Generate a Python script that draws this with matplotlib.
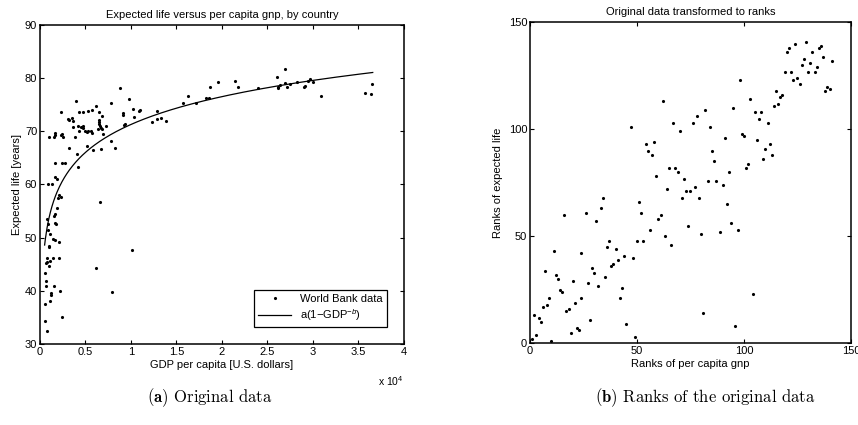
import numpy as np
import matplotlib.pyplot as plt
from matplotlib.ticker import FuncFormatter

plt.rcParams["font.family"] = ["Liberation Sans", "DejaVu Sans"]
plt.rcParams["mathtext.fontset"] = "custom"
plt.rcParams["mathtext.rm"] = "Liberation Sans"
plt.rcParams["mathtext.it"] = "Liberation Sans:italic"
plt.rcParams["font.size"] = 8

#===== left panel: GDP per capita [US$] vs expected life [years] =====#
gdp = [15750, 16300, 17140, 18240, 18600, 18680, 19520, 21430, 21720, 23960,
       26010, 26120, 26200, 26410, 26890, 26890, 27110, 27470, 28210, 29000,
       29080, 29670, 29960, 29490, 30920, 35710, 36340, 36520,
       13810, 13300, 12860, 12860, 12270,
       8790, 9740, 3990, 7770, 6150, 5710, 5270, 4760, 4250, 2270,
       6520, 6780, 6520, 6450, 6520, 6590, 6740, 6780, 6370, 6960,
       7290, 10260, 10990, 10920, 10330, 9080, 9160, 9380, 9230, 7770,
       8210, 3080, 3220, 3520, 3590, 3590, 4180, 4540, 4760, 4690,
       4320, 4980, 5270, 5570, 5710, 5130, 1610, 1610, 1540, 950,
       2420, 2270, 2560, 3810, 3220, 4100, 5130, 5790, 6670, 1680,
       2420, 2710, 4180,
       1610, 1900, 880, 1360, 2120, 2270, 1940, 6590, 1900, 1680,
       1540, 730, 1610, 1720, 880, 840, 1100, 1460, 1610, 2090,
       990, 990, 10150, 810, 1390, 2050, 730, 660, 1140, 990,
       6120, 550, 620, 1540, 620, 2200, 1170, 1250, 7910, 1060,
       550, 2420, 510, 810]
life = [75.4, 76.7, 75.4, 76.3, 76.3, 78.4, 79.3, 79.4, 78.4, 78.1,
        80.2, 78.1, 78.3, 78.7, 81.7, 79.1, 78.4, 78.9, 79.2, 78.3,
        78.5, 79.8, 79.2, 79.4, 76.7, 77.2, 77.1, 78.95,
        72.0, 72.55, 73.8, 72.4, 71.8,
        78.1, 76.1, 75.75, 75.4, 74.7, 74.0, 73.9, 73.6, 73.7, 73.6,
        73.6, 72.9, 72.2, 71.7, 71.4, 71.0, 70.6, 70.35, 70.5, 69.5,
        71.0, 74.2, 74.1, 73.9, 72.7, 73.4, 73.1, 71.4, 71.1, 68.2,
        66.8, 72.4, 72.2, 72.6, 71.9, 70.9, 71.0, 70.9, 71.0, 70.6,
        70.1, 70.0, 70.0, 70.1, 69.7, 69.85, 69.7, 69.35, 69.0, 68.85,
        69.5, 69.25, 68.85, 68.85, 66.8, 65.8, 67.2, 66.5, 66.7, 64.0,
        64.0, 64.0, 63.25,
        61.4, 61.0, 60.05, 60.0, 58.0, 57.6, 57.5, 56.7, 55.6, 54.5,
        54.1, 53.6, 52.8, 52.5, 52.65, 51.5, 50.6, 49.7, 49.5, 49.1,
        48.4, 48.2, 47.7, 46.2, 46.2, 46.2, 45.4, 45.3, 45.7, 44.7,
        44.3, 43.3, 41.8, 41.0, 40.9, 40.0, 39.5, 39.3, 39.7, 38.1,
        37.5, 35.07, 34.25, 32.4]

# fitted model a*(1 - GDP^-b)
fit_a = 1584.0
fit_b = 0.005

#===== right panel: ranks =====#
gnp_rank = [129, 124, 136, 121, 135, 120, 132, 137, 128, 141, 131, 127, 134, 119, 122,
            130, 133, 125, 123, 126, 98, 139, 140, 138, 115, 118, 117, 116, 114, 62,
            103, 95, 82, 105, 108, 78, 107, 111, 67, 76, 47, 84, 70, 99, 100,
            91, 106, 54, 58, 112, 110, 55, 57, 85, 113, 109, 86, 102, 65, 68,
            101, 69, 93, 59, 72, 83, 87, 90, 64, 77, 73, 75, 34, 71, 79,
            33, 51, 52, 26, 16, 31, 60, 61, 92, 74, 94, 56, 97, 89, 80,
            63, 50, 53, 37, 36, 66, 40, 11, 24, 44, 48, 41, 39, 38, 7,
            29, 30, 12, 13, 20, 35, 27, 32, 43, 14, 15, 104, 9, 24, 42,
            21, 8, 6, 18, 17, 81, 2, 4, 5, 28, 45, 96, 22, 23, 19,
            3, 49, 1, 10]
life_rank = [141, 140, 139, 138, 138, 136, 136, 134, 133, 132, 131, 130, 129, 127, 127,
             127, 127, 124, 123, 121, 123, 120, 119, 118, 118, 116, 115, 112, 111, 113,
             114, 110, 109, 108, 108, 106, 105, 103, 103, 103, 101, 101, 99, 98, 97,
             96, 95, 93, 94, 93, 91, 90, 88, 90, 88, 86, 85, 84, 82, 82,
             82, 80, 80, 78, 77, 76, 76, 74, 72, 73, 71, 71, 68, 68, 68,
             63, 66, 61, 61, 60, 57, 58, 60, 65, 55, 56, 53, 53, 52, 51,
             50, 48, 48, 48, 45, 46, 44, 43, 42, 41, 40, 39, 37, 36, 34,
             35, 33, 32, 30, 29, 31, 28, 27, 26, 25, 24, 23, 21, 21, 21,
             19, 18, 17, 16, 15, 14, 13, 12, 10, 11, 9, 8, 7, 6, 5,
             4, 3, 2, 1]

fig = plt.figure(figsize=(8.58, 4.25), dpi=100)
ax1 = fig.add_axes([0.0466, 0.1906, 0.4242, 0.7506])
ax2 = fig.add_axes([0.6177, 0.1922, 0.3741, 0.7553])

for ax in (ax1, ax2):
    ax.tick_params(direction="in", top=True, right=True, length=3, width=0.8,
                   labelsize=8, pad=2)
    for s in ax.spines.values():
        s.set_linewidth(1.1)

# left
ax1.plot(gdp, life, ".", color="k", ms=2.5, label="World Bank data")
g = np.linspace(min(gdp), max(gdp) + 50, 400)
ax1.plot(g, fit_a * (1 - g ** (-fit_b)), "-", color="k", lw=0.9,
         label=r"a(1$-$GDP$^{-b}$)")
ax1.set_xlim(0, 40000)
ax1.set_ylim(30, 90)
ax1.set_xticks(np.arange(0, 40001, 5000))
ax1.set_yticks(np.arange(30, 91, 10))
ax1.xaxis.set_major_formatter(FuncFormatter(lambda v, p: "%g" % (v / 1e4)))
ax1.set_title("Expected life versus per capita gnp, by country", fontsize=8, pad=5)
ax1.set_xlabel("GDP per capita [U.S. dollars]", fontsize=8, labelpad=2)
ax1.set_ylabel("Expected life [years]", fontsize=8, labelpad=2)
ax1.text(1.0, -0.095, r"x 10$^4$", transform=ax1.transAxes, ha="right",
         va="top", fontsize=7.5)
leg = ax1.legend(loc="lower right", bbox_to_anchor=(0.953, 0.053),
                 borderaxespad=0, fancybox=False, framealpha=1,
                 edgecolor="k", fontsize=8, handlelength=3.0,
                 borderpad=0.35, labelspacing=0.35)
leg.get_frame().set_linewidth(0.9)

# right
ax2.plot(gnp_rank, life_rank, ".", color="k", ms=2.5)
ax2.set_xlim(0, 150)
ax2.set_ylim(0, 150)
ax2.set_xticks([0, 50, 100, 150])
ax2.set_yticks([0, 50, 100, 150])
ax2.set_title("Original data transformed to ranks", fontsize=8, pad=5)
ax2.set_xlabel("Ranks of per capita gnp", fontsize=8, labelpad=2)
ax2.set_ylabel("Ranks of expected life", fontsize=8, labelpad=4)

# captions
fig.text(0.245, 0.065, r"$\mathbf{(a)}$ Original data", ha="center",
         va="center", fontsize=12, family="cmr10",
         math_fontfamily="cm")
fig.text(0.822, 0.065, r"$\mathbf{(b)}$ Ranks of the original data",
         ha="center", va="center", fontsize=12, family="cmr10",
         math_fontfamily="cm")

fig.savefig("out.png", dpi=100)
